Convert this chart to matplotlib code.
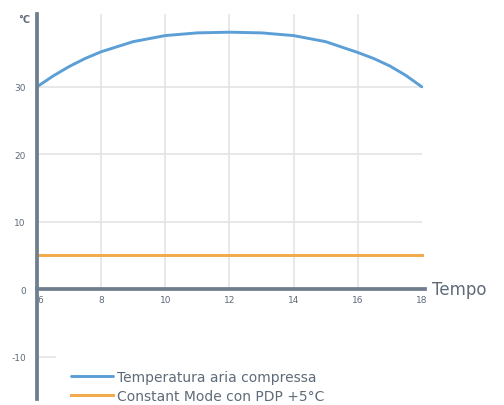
import matplotlib.pyplot as plt

plt.rcParams["axes.unicode_minus"] = False

hours = [6, 6.5, 7, 7.5, 8, 9, 10, 11, 12, 13, 14, 15, 16, 16.5, 17, 17.5, 18]
temp_air = [30, 31.6, 33.0, 34.2, 35.2, 36.7, 37.6, 38.0, 38.1, 38.0, 37.6, 36.7,
            35.1, 34.2, 33.1, 31.7, 30]
pdp_hours = [6, 18]
pdp_const = [5, 5]
x_ticks = [6, 8, 10, 12, 14, 16, 18]
y_ticks = [-10, 0, 10, 20, 30]

AXIS = "#6e7e8e"
TXT = "#5f6b78"
GRID = "#e4e4e4"

fig = plt.figure(figsize=(5.04, 4.06), dpi=100)
ax = fig.add_axes([37 / 504, 6 / 406, (425 - 37) / 504, (400 - 15) / 406])
ax.set_xlim(6, 18.1)
ax.set_ylim(-16.3, 40.8)

# grid
ax.vlines([8, 10, 12, 14, 16], 0, 40.8, color=GRID, lw=1.2, zorder=1)
ax.hlines([10, 20, 30], 6, 18, color=GRID, lw=1.2, zorder=1)
ax.hlines([-10], 6, 6.6, color=GRID, lw=1.2, zorder=1)

ax.plot(hours, temp_air, color="#5b9fd6", lw=2.1, solid_capstyle="round",
        solid_joinstyle="round", label="Temperatura aria compressa", zorder=3)
ax.plot(pdp_hours, pdp_const, color="#f1a94a", lw=2.1,
        label="Constant Mode con PDP +5°C", zorder=3)

for s in ["top", "right"]:
    ax.spines[s].set_visible(False)
ax.spines["bottom"].set_position(("data", 0))
for s in ["left", "bottom"]:
    ax.spines[s].set_color(AXIS)
    ax.spines[s].set_linewidth(2.7)
    ax.spines[s].set_zorder(4)

ax.set_xticks(x_ticks)
ax.set_xticklabels([str(t) for t in x_ticks])
ax.set_yticks(y_ticks)
ax.tick_params(axis="x", length=0, pad=4, labelsize=6.5, labelcolor=TXT)
ax.tick_params(axis="y", length=0, pad=8, labelsize=6.5, labelcolor=TXT)
ax.xaxis.get_majorticklabels()[0].set_horizontalalignment("left")

fig.text(30 / 504, 1 - 20 / 406, "°C", fontsize=7, color=TXT, ha="right", va="center",
         fontweight="bold")
fig.text(432 / 504, 1 - 290 / 406, "Tempo", fontsize=12, color=TXT, ha="left", va="center")

fig.legend(loc="upper left", bbox_to_anchor=(64 / 504, 1 - 364 / 406), frameon=False,
           fontsize=10, labelcolor=TXT, handlelength=3.0, handletextpad=0.3,
           labelspacing=0.35, borderpad=0)

fig.savefig("out.png", dpi=100)
